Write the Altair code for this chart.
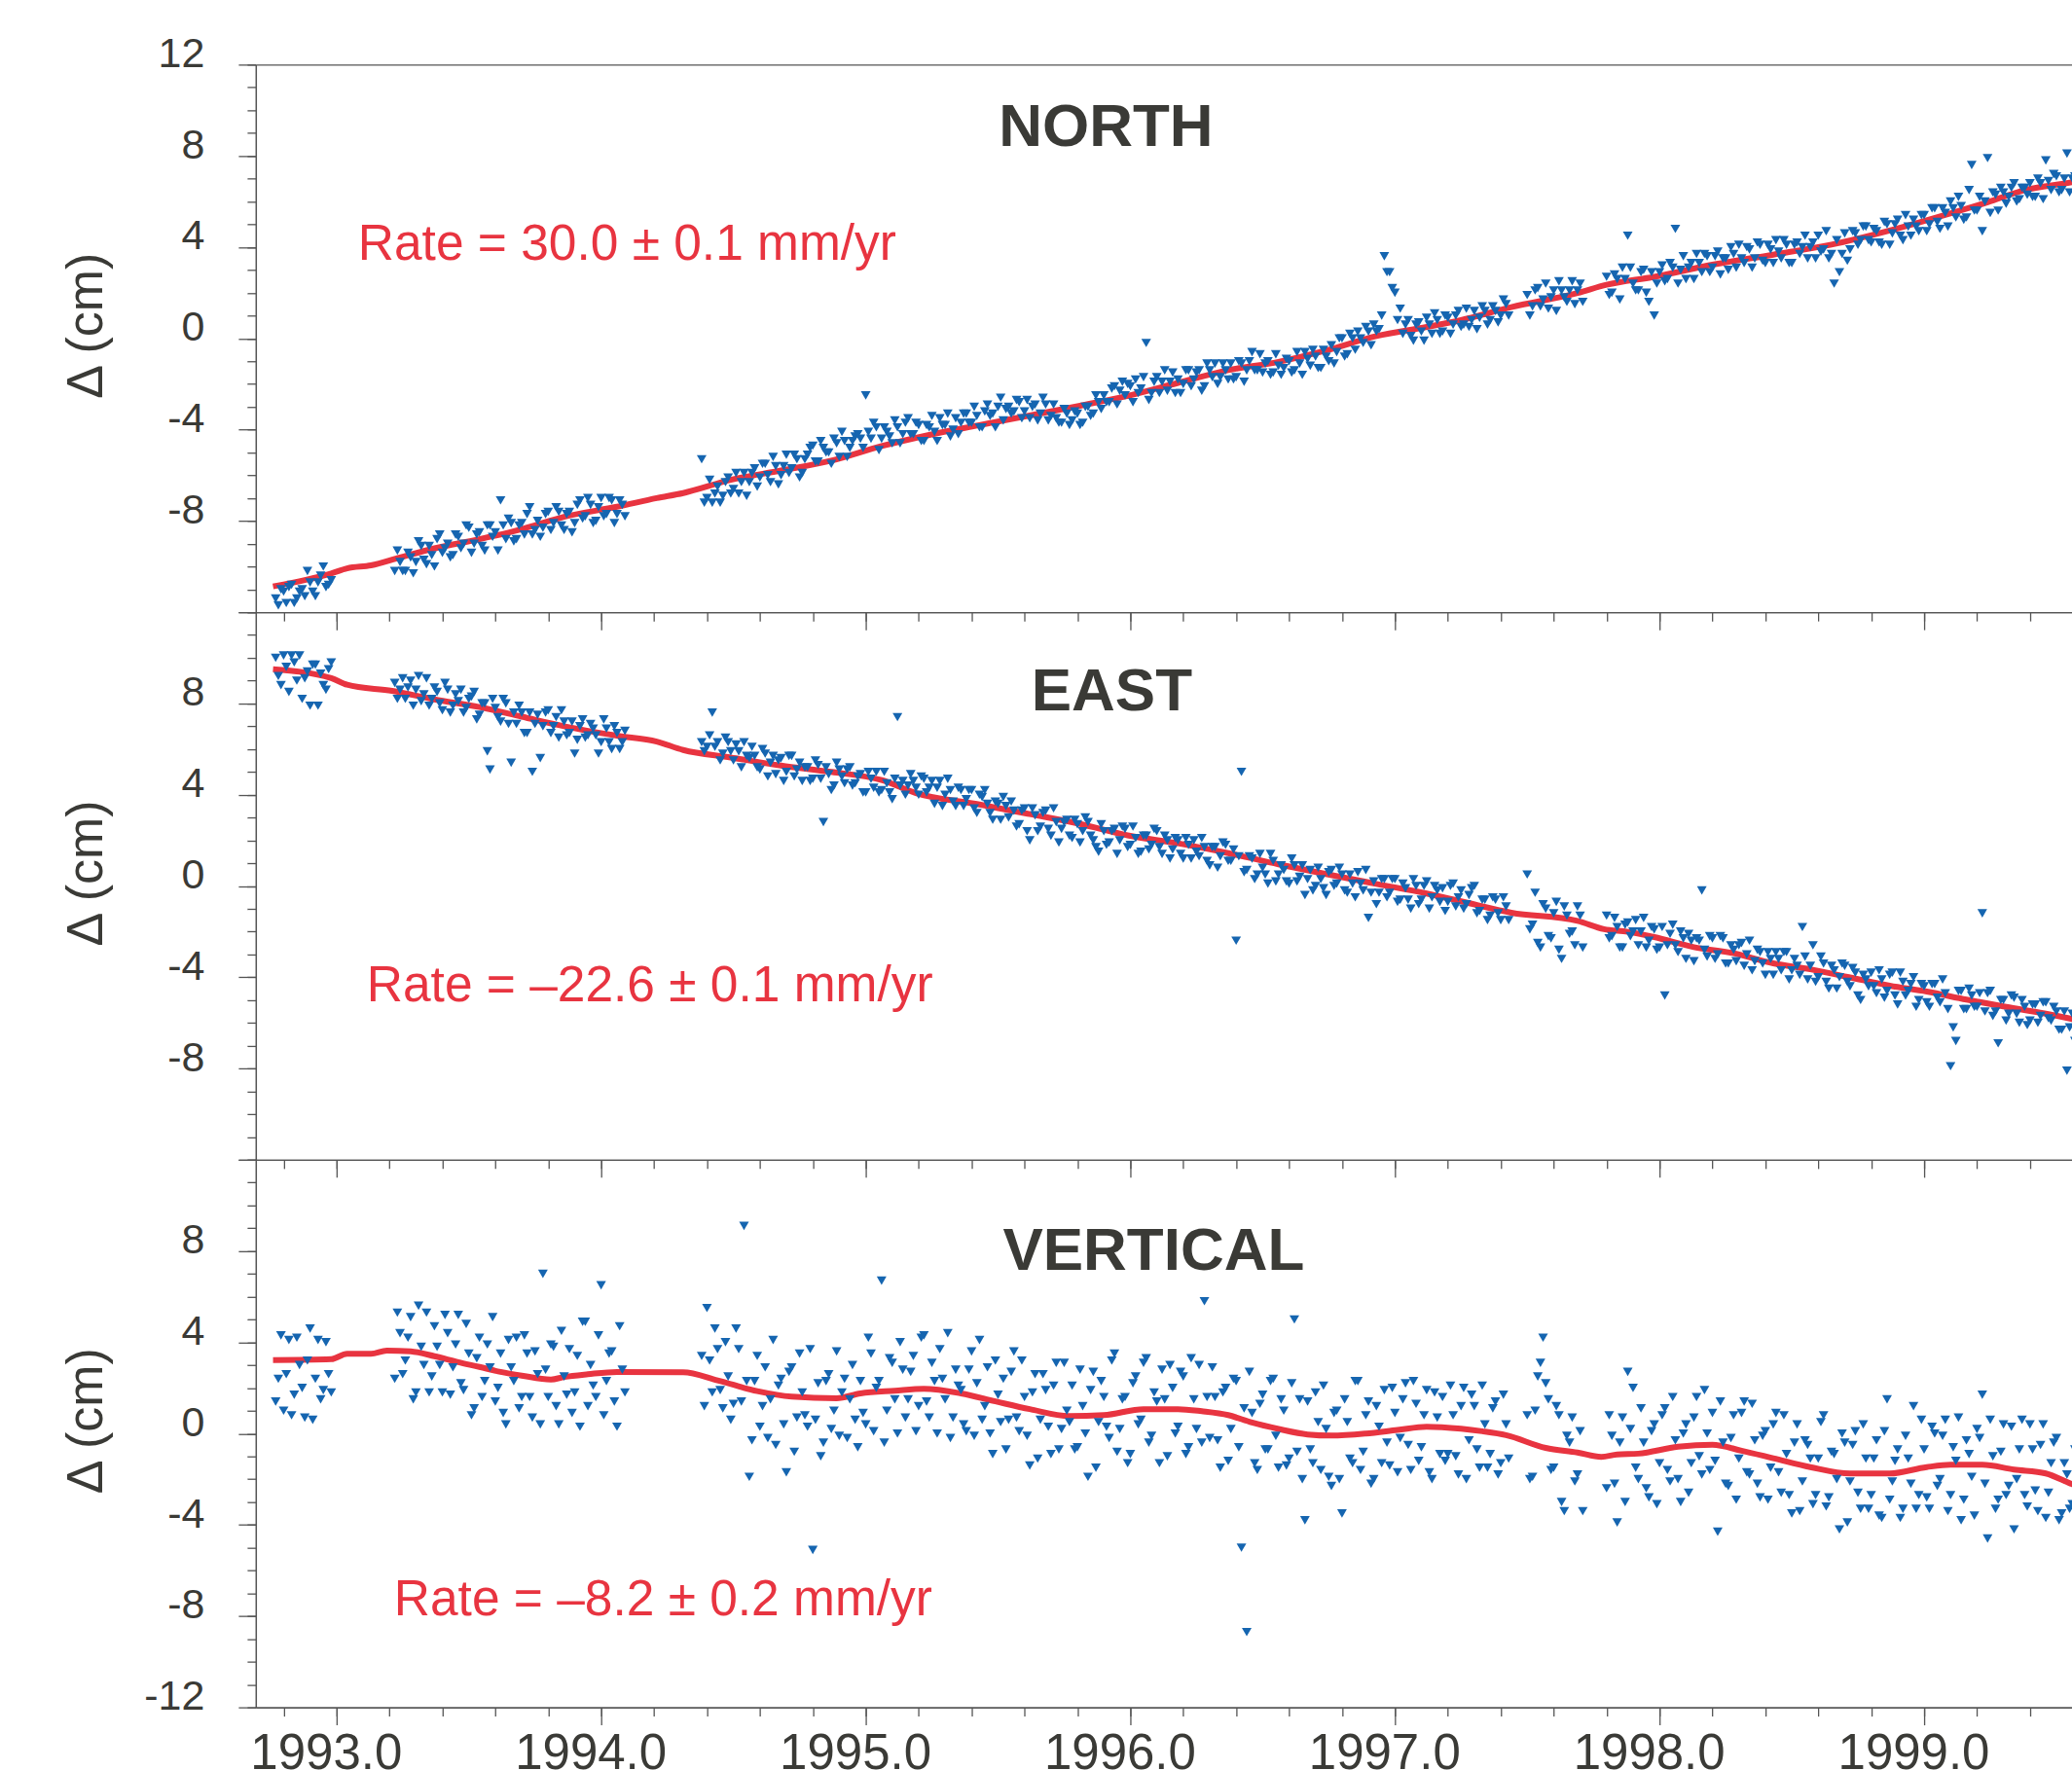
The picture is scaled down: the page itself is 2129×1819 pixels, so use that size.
import altair as alt
import pandas as pd

# ------------------------------------------------------------------ data
# observation epochs (decimal years): two interleaved daily solution sets, A and B
T_SEG1 = [1992.77, 1992.79, 1992.81, 1992.83, 1992.85, 1992.87, 1992.89, 1992.91, 1992.93, 1992.95, 1992.97]
T_SEG2 = [1993.22, 1993.24, 1993.26, 1993.28, 1993.30, 1993.32, 1993.34, 1993.36, 1993.38, 1993.40,
          1993.42, 1993.44, 1993.46, 1993.48, 1993.50, 1993.52, 1993.54, 1993.56, 1993.58, 1993.60,
          1993.62, 1993.64, 1993.66, 1993.68, 1993.70, 1993.72, 1993.74, 1993.76, 1993.78, 1993.80,
          1993.82, 1993.84, 1993.86, 1993.88, 1993.90, 1993.92, 1993.94, 1993.96, 1993.98, 1994.00,
          1994.02, 1994.04, 1994.06, 1994.08]
T_SEG3 = [1994.38, 1994.40, 1994.42, 1994.44, 1994.46, 1994.48, 1994.50, 1994.52, 1994.54, 1994.56,
          1994.58, 1994.60, 1994.62, 1994.64, 1994.66, 1994.68, 1994.70, 1994.72, 1994.74, 1994.76,
          1994.78, 1994.80, 1994.82, 1994.84, 1994.86, 1994.88, 1994.90, 1994.92, 1994.94, 1994.96,
          1994.98, 1995.00, 1995.02, 1995.04, 1995.06, 1995.08, 1995.10, 1995.12, 1995.14, 1995.16,
          1995.18, 1995.20, 1995.22, 1995.24, 1995.26, 1995.28, 1995.30, 1995.32, 1995.34, 1995.36,
          1995.38, 1995.40, 1995.42, 1995.44, 1995.46, 1995.48, 1995.50, 1995.52, 1995.54, 1995.56,
          1995.58, 1995.60, 1995.62, 1995.64, 1995.66, 1995.68, 1995.70, 1995.72, 1995.74, 1995.76,
          1995.78, 1995.80, 1995.82, 1995.84, 1995.86, 1995.88, 1995.90, 1995.92, 1995.94, 1995.96,
          1995.98, 1996.00, 1996.02, 1996.04, 1996.06, 1996.08, 1996.10, 1996.12, 1996.14, 1996.16,
          1996.18, 1996.20, 1996.22, 1996.24, 1996.26, 1996.28, 1996.30, 1996.32, 1996.34, 1996.36,
          1996.38, 1996.40, 1996.42, 1996.44, 1996.46, 1996.48, 1996.50, 1996.52, 1996.54, 1996.56,
          1996.58, 1996.60, 1996.62, 1996.64, 1996.66, 1996.68, 1996.70, 1996.72, 1996.74, 1996.76,
          1996.78, 1996.80, 1996.82, 1996.84, 1996.86, 1996.88, 1996.90, 1996.92, 1996.94, 1996.96,
          1996.98, 1997.00, 1997.02, 1997.04, 1997.06, 1997.08, 1997.10, 1997.12, 1997.14, 1997.16,
          1997.18, 1997.20, 1997.22, 1997.24, 1997.26, 1997.28, 1997.30, 1997.32, 1997.34, 1997.36,
          1997.38, 1997.40, 1997.42]
T_SEG4 = [1997.50, 1997.52, 1997.54, 1997.56, 1997.58, 1997.60, 1997.62, 1997.64, 1997.66, 1997.68, 1997.70]
T_SEG5 = [1997.80, 1997.82, 1997.84, 1997.86, 1997.88, 1997.90, 1997.92, 1997.94, 1997.96, 1997.98,
          1998.00, 1998.02, 1998.04, 1998.06, 1998.08, 1998.10, 1998.12, 1998.14, 1998.16, 1998.18,
          1998.20, 1998.22, 1998.24, 1998.26, 1998.28, 1998.30, 1998.32, 1998.34, 1998.36, 1998.38,
          1998.40, 1998.42, 1998.44, 1998.46, 1998.48, 1998.50, 1998.52, 1998.54, 1998.56, 1998.58,
          1998.60, 1998.62, 1998.64, 1998.66, 1998.68, 1998.70, 1998.72, 1998.74, 1998.76, 1998.78,
          1998.80, 1998.82, 1998.84, 1998.86, 1998.88, 1998.90, 1998.92, 1998.94, 1998.96, 1998.98,
          1999.00, 1999.02, 1999.04, 1999.06, 1999.08, 1999.10, 1999.12, 1999.14, 1999.16, 1999.18,
          1999.20, 1999.22, 1999.24, 1999.26, 1999.28, 1999.30, 1999.32, 1999.34, 1999.36, 1999.38,
          1999.40, 1999.42, 1999.44, 1999.46, 1999.48, 1999.50, 1999.52, 1999.54, 1999.56]

T_SEG1B = [1992.78, 1992.80, 1992.82, 1992.84, 1992.86, 1992.88, 1992.90, 1992.92, 1992.94, 1992.96, 1992.98]
T_SEG2B = [1993.23, 1993.25, 1993.27, 1993.29, 1993.31, 1993.33, 1993.35, 1993.37, 1993.39, 1993.41,
           1993.43, 1993.45, 1993.47, 1993.49, 1993.51, 1993.53, 1993.55, 1993.57, 1993.59, 1993.61,
           1993.63, 1993.65, 1993.67, 1993.69, 1993.71, 1993.73, 1993.75, 1993.77, 1993.79, 1993.81,
           1993.83, 1993.85, 1993.87, 1993.89, 1993.91, 1993.93, 1993.95, 1993.97, 1993.99, 1994.01,
           1994.03, 1994.05, 1994.07, 1994.09]
T_SEG3B = [1994.39, 1994.41, 1994.43, 1994.45, 1994.47, 1994.49, 1994.51, 1994.53, 1994.55, 1994.57,
           1994.59, 1994.61, 1994.63, 1994.65, 1994.67, 1994.69, 1994.71, 1994.73, 1994.75, 1994.77,
           1994.79, 1994.81, 1994.83, 1994.85, 1994.87, 1994.89, 1994.91, 1994.93, 1994.95, 1994.97,
           1994.99, 1995.01, 1995.03, 1995.05, 1995.07, 1995.09, 1995.11, 1995.13, 1995.15, 1995.17,
           1995.19, 1995.21, 1995.23, 1995.25, 1995.27, 1995.29, 1995.31, 1995.33, 1995.35, 1995.37,
           1995.39, 1995.41, 1995.43, 1995.45, 1995.47, 1995.49, 1995.51, 1995.53, 1995.55, 1995.57,
           1995.59, 1995.61, 1995.63, 1995.65, 1995.67, 1995.69, 1995.71, 1995.73, 1995.75, 1995.77,
           1995.79, 1995.81, 1995.83, 1995.85, 1995.87, 1995.89, 1995.91, 1995.93, 1995.95, 1995.97,
           1995.99, 1996.01, 1996.03, 1996.05, 1996.07, 1996.09, 1996.11, 1996.13, 1996.15, 1996.17,
           1996.19, 1996.21, 1996.23, 1996.25, 1996.27, 1996.29, 1996.31, 1996.33, 1996.35, 1996.37,
           1996.39, 1996.41, 1996.43, 1996.45, 1996.47, 1996.49, 1996.51, 1996.53, 1996.55, 1996.57,
           1996.59, 1996.61, 1996.63, 1996.65, 1996.67, 1996.69, 1996.71, 1996.73, 1996.75, 1996.77,
           1996.79, 1996.81, 1996.83, 1996.85, 1996.87, 1996.89, 1996.91, 1996.93, 1996.95, 1996.97,
           1996.99, 1997.01, 1997.03, 1997.05, 1997.07, 1997.09, 1997.11, 1997.13, 1997.15, 1997.17,
           1997.19, 1997.21, 1997.23, 1997.25, 1997.27, 1997.29, 1997.31, 1997.33, 1997.35, 1997.37,
           1997.39, 1997.41, 1997.43]
T_SEG4B = [1997.51, 1997.53, 1997.55, 1997.57, 1997.59, 1997.61, 1997.63, 1997.65, 1997.67, 1997.69, 1997.71]
T_SEG5B = [1997.81, 1997.83, 1997.85, 1997.87, 1997.89, 1997.91, 1997.93, 1997.95, 1997.97, 1997.99,
           1998.01, 1998.03, 1998.05, 1998.07, 1998.09, 1998.11, 1998.13, 1998.15, 1998.17, 1998.19,
           1998.21, 1998.23, 1998.25, 1998.27, 1998.29, 1998.31, 1998.33, 1998.35, 1998.37, 1998.39,
           1998.41, 1998.43, 1998.45, 1998.47, 1998.49, 1998.51, 1998.53, 1998.55, 1998.57, 1998.59,
           1998.61, 1998.63, 1998.65, 1998.67, 1998.69, 1998.71, 1998.73, 1998.75, 1998.77, 1998.79,
           1998.81, 1998.83, 1998.85, 1998.87, 1998.89, 1998.91, 1998.93, 1998.95, 1998.97, 1998.99,
           1999.01, 1999.03, 1999.05, 1999.07, 1999.09, 1999.11, 1999.13, 1999.15, 1999.17, 1999.19,
           1999.21, 1999.23, 1999.25, 1999.27, 1999.29, 1999.31, 1999.33, 1999.35, 1999.37, 1999.39,
           1999.41, 1999.43, 1999.45, 1999.47, 1999.49, 1999.51, 1999.53, 1999.55, 1999.57]

# NORTH displacement (cm)
N_SEG1 = [-11.4, -11.0, -11.6, -10.8, -11.4, -11.0, -10.2, -11.1, -10.7, -10.0, -10.8]
N_SEG2 = [-10.2, -9.8, -10.2, -9.6, -9.8, -9.1, -9.9, -9.5, -8.8, -9.4,
          -9.0, -9.5, -8.7, -9.0, -8.3, -9.0, -8.5, -9.3, -8.2, -8.5,
          -7.1, -8.8, -8.1, -8.8, -8.1, -7.7, -8.6, -8.0, -8.3, -7.6,
          -8.1, -7.6, -8.4, -7.6, -8.1, -7.1, -7.8, -7.3, -8.0, -7.0,
          -7.7, -7.1, -7.7, -7.3]
N_SEG3 = [-5.3, -7.0, -7.2, -6.5, -6.9, -6.1, -6.6, -6.8, -5.9, -6.3,
          -5.7, -6.1, -5.5, -6.3, -5.6, -6.0, -5.1, -5.7, -5.3, -5.9,
          -5.1, -4.7, -5.4, -4.8, -5.0, -4.4, -5.2, -4.5, -4.8, -4.3,
          -4.4, -2.5, -4.4, -3.9, -4.4, -4.1, -4.6, -3.9, -4.2, -3.5,
          -4.2, -3.8, -4.5, -3.9, -4.1, -3.5, -3.8, -4.3, -3.5, -3.7,
          -3.3, -3.7, -3.4, -3.9, -2.9, -3.3, -3.0, -3.6, -3.0, -3.2,
          -2.8, -3.2, -3.5, -2.9, -3.3, -2.9, -3.4, -3.5, -3.7, -3.3,
          -3.6, -3.3, -3.7, -3.0, -3.3, -2.8, -2.5, -2.8, -2.1, -2.3,
          -2.5, -2.1, -1.8, -2.2, -0.2, -2.4, -1.7, -1.9, -2.3, -1.5,
          -1.8, -2.0, -1.4, -1.8, -1.4, -2.1, -1.4, -1.1, -1.7, -1.4,
          -1.1, -1.7, -1.1, -1.4, -0.6, -1.4, -1.5, -1.0, -1.5, -1.2,
          -1.3, -1.0, -1.4, -1.1, -0.6, -1.2, -0.8, -1.3, -0.8, -0.3,
          -0.6, 0.0, -0.7, 0.0, 0.3, -0.2, 0.3, 0.6, 0.4, 3.6,
          2.9, 2.0, 1.3, 0.6, 0.1, 0.6, 0.3, 0.9, 0.2, 0.8,
          0.3, 0.9, 0.6, 1.2, 0.6, 0.5, 1.2, 0.9, 1.2, 0.8,
          1.2, 1.0, 1.5]
N_SEG4 = [1.9, 1.4, 2.2, 1.7, 1.3, 2.1, 2.5, 1.8, 2.1, 1.5, 2.4]
N_SEG5 = [2.7, 2.0, 2.6, 3.1, 4.5, 2.4, 2.1, 3.0, 1.6, 1.0,
          2.9, 2.5, 3.3, 4.8, 3.0, 2.6, 3.3, 3.7, 2.9, 3.6,
          3.1, 3.8, 3.5, 3.0, 3.7, 4.1, 3.3, 3.9, 3.5, 4.1,
          3.3, 3.9, 4.3, 3.5, 4.1, 3.3, 4.2, 4.0, 3.5, 4.2,
          4.5, 3.9, 3.5, 2.4, 2.9, 4.6, 3.9, 4.6, 4.3, 4.9,
          4.2, 4.7, 4.1, 5.0, 4.6, 5.2, 4.3, 4.9, 5.2, 4.7,
          5.4, 5.0, 5.7, 4.8, 5.5, 6.0, 5.3, 5.8, 5.3, 7.6,
          5.6, 4.7, 7.9, 6.4, 5.6, 6.4, 6.2, 6.8, 6.1, 6.6,
          6.8, 6.2, 6.8, 7.8, 6.5, 7.1, 6.5, 8.1, 7.0]
N_SEG1B = [-11.7, -11.1, -10.9, -11.6, -11.1, -11.3, -10.7, -11.3, -10.4, -10.9, -10.6]
N_SEG2B = [-9.3, -10.2, -9.4, -10.3, -8.9, -9.7, -9.1, -10.0, -8.6, -9.2,
           -9.6, -8.6, -9.2, -8.2, -9.4, -8.6, -9.1, -8.2, -8.7, -9.3,
           -8.2, -7.9, -8.9, -8.2, -8.6, -7.4, -8.4, -8.7, -7.7, -8.4,
           -7.4, -8.2, -7.7, -8.5, -7.3, -7.9, -7.0, -8.1, -7.4, -7.8,
           -7.0, -8.1, -7.1, -7.8]
N_SEG3B = [-7.2, -6.2, -6.8, -7.2, -6.3, -6.8, -5.9, -6.3, -6.9, -5.9,
           -6.5, -5.5, -6.0, -5.2, -6.4, -5.6, -5.9, -5.1, -6.1, -5.3,
           -4.8, -5.4, -4.5, -5.0, -5.5, -4.6, -4.1, -5.2, -4.5, -4.2,
           -4.8, -4.1, -3.7, -4.9, -3.9, -4.3, -3.6, -4.6, -3.7, -4.2,
           -3.7, -4.5, -3.8, -3.4, -4.5, -3.8, -3.3, -4.0, -4.2, -3.3,
           -3.7, -3.0, -3.9, -3.2, -3.4, -3.9, -2.6, -3.1, -3.3, -2.7,
           -3.5, -2.7, -3.0, -3.6, -2.6, -3.6, -2.9, -3.7, -3.1, -3.8,
           -3.2, -3.8, -3.0, -3.4, -2.5, -3.1, -2.8, -2.2, -2.9, -1.9,
           -2.0, -2.8, -2.4, -1.7, -2.7, -1.9, -2.4, -1.4, -1.9, -2.4,
           -2.4, -1.4, -2.1, -1.5, -2.3, -1.1, -1.7, -2.0, -1.1, -1.8,
           -1.8, -1.0, -1.9, -1.0, -1.4, -0.7, -1.1, -1.6, -0.7, -1.6,
           -0.9, -1.5, -0.6, -1.6, -0.9, -0.5, -1.3, -0.5, -1.0, -1.1,
           0.0, -0.8, 0.2, -0.5, 0.0, 0.5, -0.3, 0.3, 1.0, 2.9,
           2.2, 0.8, 0.2, 0.8, -0.1, 0.7, -0.1, 0.6, 1.1, 0.2,
           1.0, 0.2, 1.0, 0.5, 1.3, 0.8, 0.4, 1.4, 0.6, 1.4,
           0.7, 1.7, 1.0]
N_SEG4B = [1.0, 2.1, 1.4, 2.4, 1.8, 1.2, 2.1, 1.6, 2.5, 2.1, 1.6]
N_SEG5B = [1.9, 2.8, 1.7, 2.6, 3.1, 2.1, 2.9, 2.0, 2.9, 2.4,
           3.2, 2.6, 3.1, 2.4, 3.6, 3.1, 2.6, 3.3, 3.7, 2.9,
           3.6, 2.8, 3.5, 4.0, 3.1, 3.5, 4.0, 3.1, 4.2, 3.4,
           4.1, 3.3, 3.8, 4.3, 3.3, 4.1, 3.7, 4.5, 4.0, 3.5,
           3.8, 4.7, 3.7, 4.3, 3.7, 3.4, 4.7, 4.1, 4.9, 4.3,
           4.8, 4.2, 5.1, 4.1, 5.0, 4.5, 5.4, 4.5, 4.9, 5.4,
           4.7, 5.7, 5.1, 5.7, 4.9, 5.7, 6.2, 5.2, 6.5, 5.6,
           6.2, 6.0, 5.5, 6.3, 6.6, 5.9, 6.6, 6.0, 6.6, 6.3,
           6.2, 7.0, 6.1, 6.9, 7.2, 6.4, 7.0, 6.4, 7.1]

# EAST displacement (cm)
E_SEG1 = [10.0, 8.8, 9.6, 10.1, 9.0, 8.2, 9.4, 9.7, 7.9, 8.8, 9.5]
E_SEG2 = [8.9, 8.6, 8.2, 9.0, 8.6, 8.1, 9.1, 8.2, 8.5, 7.7,
          8.6, 7.9, 8.1, 7.6, 8.2, 8.5, 7.5, 8.0, 5.1, 7.8,
          7.2, 8.0, 5.4, 7.1, 7.6, 6.7, 5.0, 7.5, 7.0, 7.7,
          7.0, 6.5, 7.2, 6.7, 5.8, 7.0, 6.5, 7.1, 6.6, 6.3,
          6.9, 6.0, 6.7, 6.3]
E_SEG3 = [6.3, 6.1, 7.6, 6.3, 5.8, 6.3, 5.5, 5.9, 6.3, 5.6,
          5.7, 5.1, 5.8, 5.4, 4.9, 5.6, 5.0, 5.7, 5.1, 4.6,
          5.2, 4.7, 5.3, 2.8, 4.9, 4.4, 5.1, 4.5, 5.2, 4.5,
          4.9, 4.1, 4.7, 5.0, 4.2, 4.5, 3.8, 7.4, 4.6, 4.4,
          4.6, 4.0, 4.7, 4.3, 3.6, 4.6, 4.0, 4.2, 3.5, 4.2,
          3.8, 4.2, 3.2, 3.9, 3.6, 2.9, 3.6, 3.9, 3.0, 3.3,
          2.7, 3.4, 2.0, 3.1, 2.6, 3.3, 2.2, 2.8, 2.5, 2.9,
          2.1, 2.7, 2.4, 2.8, 2.0, 1.5, 2.4, 1.9, 2.5, 2.0,
          2.5, 1.8, 2.1, 1.5, 2.2, 1.8, 2.4, 1.4, 2.0, 1.6,
          2.0, 1.2, 1.8, 2.0, 1.3, 1.7, 0.9, 1.7, 1.3, 1.8,
          1.1, -2.4, 5.0, 0.7, 1.2, 0.5, 0.8, 0.1, 1.1, 0.5,
          0.7, 0.1, 0.9, 0.4, -0.4, 0.7, 0.0, 0.3, -0.4, 0.7,
          0.1, 0.5, -0.3, 0.1, 0.6, -0.2, -1.4, 0.2, -0.3, 0.3,
          -0.3, 0.3, -0.6, -0.1, -1.0, 0.0, -0.6, 0.2, -0.5, -0.2,
          -0.1, -0.7, 0.1, -0.5, -1.0, -0.4, 0.0, -1.1, -0.6, -1.3,
          -0.6, -1.5, -0.9]
E_SEG4 = [0.5, -1.7, -2.5, -0.8, -2.2, -1.2, -2.8, -0.9, -2.1, -2.6, -1.3]
E_SEG5 = [-1.3, -2.2, -1.8, -2.7, -1.6, -2.0, -2.6, -1.4, -2.4, -1.9,
          -2.7, -4.8, -2.1, -2.6, -2.0, -3.2, -2.4, -2.3, -0.2, -3.1,
          -2.3, -3.0, -2.3, -3.4, -2.8, -2.6, -3.5, -2.4, -3.3, -2.9,
          -3.9, -3.2, -2.9, -3.7, -2.9, -3.7, -3.5, -1.8, -4.1, -2.6,
          -4.0, -3.4, -4.5, -3.7, -4.0, -3.5, -4.4, -3.8, -5.0, -4.1,
          -3.8, -4.7, -4.1, -4.6, -3.8, -5.2, -4.2, -4.6, -4.0, -5.0,
          -4.4, -5.3, -4.3, -5.1, -4.7, -7.9, -6.8, -4.6, -5.4, -4.8,
          -5.3, -1.2, -4.7, -5.7, -6.9, -5.0, -5.6, -4.9, -6.0, -5.3,
          -5.9, -5.2, -5.7, -5.1, -5.9, -5.5, -6.3, -8.1, -5.6]
E_SEG1B = [9.2, 10.1, 8.5, 9.8, 10.1, 9.1, 7.9, 9.7, 9.3, 8.6, 9.8]
E_SEG2B = [8.2, 9.1, 8.7, 7.9, 9.2, 8.4, 7.9, 8.7, 8.0, 8.9,
           7.6, 8.4, 8.6, 7.8, 8.3, 7.3, 8.0, 5.9, 8.2, 7.4,
           8.2, 7.1, 7.6, 7.9, 6.7, 7.6, 7.1, 5.6, 7.6, 6.7,
           7.4, 7.7, 6.6, 7.2, 6.4, 7.3, 6.6, 6.9, 5.8, 7.3,
           6.3, 7.0, 6.0, 6.8]
E_SEG3B = [5.9, 6.6, 6.1, 5.5, 6.5, 5.9, 6.2, 5.2, 5.7, 6.1,
           5.2, 6.0, 4.8, 5.7, 5.5, 4.6, 5.7, 4.8, 5.4, 5.2,
           4.6, 5.5, 4.7, 5.2, 4.2, 5.4, 4.8, 5.1, 4.4, 4.8,
           4.1, 5.0, 4.3, 4.1, 5.0, 4.1, 4.7, 4.4, 4.0, 4.9,
           4.3, 4.8, 4.1, 4.6, 4.3, 3.5, 4.7, 3.7, 4.3, 3.5,
           4.2, 3.4, 4.0, 4.2, 3.2, 3.7, 2.9, 3.5, 3.7, 2.6,
           3.3, 2.4, 3.4, 2.4, 3.2, 2.5, 3.4, 1.9, 2.8, 2.2,
           2.9, 1.9, 3.0, 2.2, 1.7, 2.7, 1.8, 2.4, 1.4, 2.6,
           1.7, 2.6, 1.4, 2.2, 1.6, 2.5, 1.7, 2.2, 1.2, 2.1,
           1.4, 2.1, 1.2, 1.5, 2.1, 1.1, 1.7, 0.8, 1.9, 1.1,
           1.6, 1.3, 0.6, 1.3, 0.3, 1.4, 0.5, 1.4, 0.2, 0.9,
           0.2, 1.2, 0.2, 0.9, 0.3, -0.2, 0.8, -0.1, 0.6, 0.0,
           0.8, -0.2, 0.5, -0.5, 0.1, 0.7, -0.3, -0.8, 0.3, -0.5,
           0.3, -0.7, 0.1, -0.6, 0.3, -0.8, 0.0, -1.0, 0.0, -0.7,
           -1.1, 0.0, -0.9, -0.2, -0.8, -0.1, -1.2, -0.6, -1.5, -0.5,
           -1.2, -0.5, -1.5]
E_SEG4B = [-1.9, -0.3, -2.7, -1.0, -2.3, -0.7, -3.2, -1.3, -2.0, -0.9, -2.7]
E_SEG5B = [-2.3, -1.4, -2.7, -1.7, -2.2, -1.5, -2.0, -2.7, -1.8, -2.8,
           -1.8, -2.6, -1.7, -2.9, -2.3, -2.1, -3.3, -2.4, -2.8, -2.2,
           -3.2, -2.2, -3.4, -2.6, -3.3, -2.5, -3.0, -3.7, -2.8, -3.4,
           -2.9, -3.9, -3.2, -2.9, -4.1, -3.2, -3.9, -3.1, -3.5, -4.2,
           -3.1, -4.2, -3.5, -4.5, -3.4, -4.2, -3.6, -4.8, -3.9, -4.4,
           -4.4, -3.7, -4.9, -3.9, -4.8, -3.8, -4.8, -4.3, -5.3, -4.3,
           -5.1, -4.3, -4.9, -4.1, -5.4, -6.2, -4.6, -5.4, -4.5, -5.3,
           -4.7, -5.5, -4.6, -5.5, -5.0, -5.9, -4.8, -5.6, -5.0, -6.1,
           -5.2, -6.0, -5.1, -5.8, -5.3, -6.3, -5.5, -6.2, -6.8]

# VERTICAL displacement (cm)
U_SEG1 = [1.4, 4.3, 2.6, 0.8, 4.2, 2.0, 3.2, 0.6, 4.1, 1.9, 2.6]
U_SEG2 = [2.4, 4.4, 3.2, 5.1, 1.8, 3.8, 5.3, 2.5, 3.8, 1.8,
          4.4, 2.9, 5.2, 1.9, 3.5, 1.1, 4.2, 2.3, 2.9, 1.4,
          3.5, 0.4, 2.9, 4.2, 1.6, 3.5, 0.7, 2.6, 7.0, 1.6,
          3.8, 0.4, 2.5, 3.7, 1.8, 0.3, 4.9, 3.0, 1.6, 6.5,
          2.3, 3.6, 0.3, 2.8]
U_SEG3 = [3.4, 5.5, 1.8, 3.7, 1.1, 2.5, 1.3, 3.7, 9.1, -1.9,
          2.3, 0.3, 2.9, 1.5, -0.5, 2.4, -1.7, 2.9, 0.7, 1.8,
          0.3, -5.1, 2.2, -0.4, 2.6, 1.0, -0.1, 2.4, 1.5, 0.6,
          2.3, 0.4, 3.5, 2.0, 6.7, 1.0, 3.1, 0.0, 2.8, 1.5,
          3.4, 1.2, 4.3, 0.7, 2.3, 3.7, 1.5, -0.2, 2.8, 1.9,
          0.1, 3.6, 2.2, 0.6, 2.9, -0.9, 1.7, 2.4, 0.6, 3.6,
          0.1, 1.6, -1.4, 2.6, 0.6, 1.9, -0.9, 3.1, 0.2, 1.0,
          2.1, -0.6, 1.2, -1.9, 2.7, 0.5, 1.6, -0.2, 3.5, 0.2,
          1.6, -0.9, 2.5, 0.6, 3.3, -0.1, 1.4, 2.8, -1.0, 2.0,
          0.3, 2.5, -0.6, 1.5, 3.0, 5.8, -0.2, 1.6, -1.5, 2.0,
          0.2, 2.3, -5.0, -8.7, 0.9, -1.6, 1.7, -0.7, 2.4, -1.5,
          1.0, -1.1, 5.0, 1.5, -3.8, -0.7, 1.8, -1.6, 0.2, -2.3,
          1.0, -3.5, 0.5, -1.3, 2.3, -0.8, 1.4, -2.0, 0.3, 1.9,
          -1.4, 0.9, -0.2, 2.2, -1.6, 1.3, -0.6, 1.9, -2.0, 0.7,
          1.6, -0.9, 0.8, -1.8, 2.0, -0.3, 1.2, -1.5, 0.4, -0.9,
          1.4, -1.3, 0.4]
U_SEG4 = [0.8, -1.9, 2.5, 4.2, 1.5, -1.5, 0.8, -3.4, -0.4, -2.1, 0.1]
U_SEG5 = [-2.4, -0.1, -3.9, 0.7, 2.7, 2.0, -2.0, -0.4, -2.8, 0.4,
          -1.3, 1.1, -2.1, -0.3, -3.0, 0.4, -1.3, 1.6, -1.8, 0.0,
          0.9, -4.3, -0.4, -2.3, 0.8, -1.1, 1.4, -1.8, -0.3, -2.8,
          0.1, -1.5, 0.9, -2.6, -0.9, -3.5, 0.4, -2.1, -0.5, -3.1,
          -1.1, 0.8, -2.8, -0.9, -4.2, -0.4, -2.1, 0.1, -3.3, -1.1,
          -2.7, -0.3, -3.7, 1.5, -2.1, -0.7, -3.3, -1.1, 1.2, -2.7,
          -0.7, -3.3, 0.0, -2.0, 0.6, -2.7, -1.2, -3.8, -0.3, -1.9,
          0.2, 1.7, -4.6, -1.0, -2.9, 0.4, -2.3, -4.2, -0.7, -2.7,
          0.4, -2.5, -0.5, -3.7, -1.3, -0.2, -3.5, -1.8, -3.1]
U_SEG1B = [2.4, 1.0, 4.1, 1.7, 3.0, 0.7, 4.6, 2.4, 1.5, 4.0, 1.8]
U_SEG2B = [5.3, 2.6, 4.2, 1.5, 5.6, 3.0, 1.8, 4.7, 3.0, 5.2,
           1.7, 3.9, 2.2, 4.8, 0.8, 3.3, 1.6, 3.9, 5.1, 2.0,
           0.9, 4.1, 2.3, 1.1, 4.3, 1.6, 3.6, 0.4, 2.8, 3.9,
           1.2, 4.5, 1.7, 0.9, 3.4, 4.9, 1.2, 2.1, 4.3, 0.8,
           3.5, 1.4, 4.7, 1.8]
U_SEG3B = [1.2, 3.2, 4.6, 1.9, 4.0, 0.6, 4.6, 1.4, 2.3, -0.3,
           3.4, 1.2, -0.2, 4.1, 2.1, 0.4, 2.7, -0.8, 3.5, 0.8,
           3.7, 0.6, -1.0, 2.3, 0.2, 3.6, 1.8, -0.2, 3.0, -0.6,
           0.9, 4.2, 0.1, 2.3, -0.4, 3.3, 1.5, 4.0, 0.7, 2.7,
           0.1, 4.2, 1.4, 3.1, 0.0, 2.4, 4.4, 0.7, 2.1, 0.4,
           2.8, -0.1, 4.1, 1.2, 0.0, 3.2, 0.5, -0.7, 2.7, 0.7,
           3.2, -0.1, 1.8, -1.1, 2.6, 0.3, 2.1, -0.7, 3.1, 0.5,
           -0.7, 2.8, 0.0, 1.9, -1.5, 2.3, 0.3, 3.2, -0.8, 1.5,
           -1.3, 2.2, 0.4, 3.1, -0.4, 1.8, -1.3, 1.5, 3.0, 0.0,
           2.7, -0.9, 3.3, 0.2, -0.4, 1.6, 2.9, -0.3, 1.8, -1.2,
           2.4, -0.6, 1.1, 2.7, -1.3, 1.3, -0.7, 2.3, -0.1, 1.5,
           -1.4, 2.2, -0.8, -2.0, 1.4, -1.3, 0.5, 2.1, -1.9, 0.9,
           -2.0, 1.5, -1.1, 2.3, -1.6, 0.8, -2.2, 1.2, -1.3, -0.4,
           2.0, -1.7, 1.5, -0.5, 2.3, -1.2, 0.8, -1.7, 1.8, -0.9,
           -1.2, 2.1, -1.0, 1.2, -2.0, 1.7, -0.7, 2.1, -1.5, 1.1,
           -1.8, 1.7, -1.1]
U_SEG4B = [-2.0, 1.0, 3.1, 2.2, -1.6, 1.2, -3.0, -0.1, 0.7, -1.8, -3.4]
U_SEG5B = [0.8, -2.2, -0.4, -3.0, 0.2, -1.5, 1.1, -2.4, 0.1, -3.1,
           0.8, -1.6, 1.6, -2.0, 0.0, -2.6, 0.7, -1.0, 1.9, -1.6,
           -1.2, 1.4, -2.2, -0.2, -2.9, 0.9, -1.7, 1.3, -2.2, -0.1,
           -2.9, 0.4, -1.7, 0.8, -2.7, -0.4, -3.4, -0.3, -1.1, -2.7,
           0.5, -3.2, -0.8, -2.0, 0.0, -3.9, -0.5, -2.6, 0.4, -3.3,
           -1.1, -3.6, 0.1, -2.9, -1.2, -3.7, -0.1, -2.2, -3.3, 0.6,
           -2.8, 0.3, -2.3, -0.1, -3.4, -0.6, 0.7, -2.9, -0.9, -3.6,
           -0.2, -2.2, 0.6, -3.3, -0.8, -2.7, 0.3, -2.0, 0.6, -3.2,
           -0.7, -3.4, 0.4, -2.6, -0.4, -3.8, -1.3, -3.3, -0.7]

# fitted model curves (red)
FIT_N_T = [1992.76, 1992.98, 1993.04, 1993.13, 1993.24, 1993.37, 1993.54, 1993.70, 1993.86, 1994.06,
           1994.21, 1994.31, 1994.49, 1994.68, 1994.87, 1995.06, 1995.24, 1995.43, 1995.62, 1995.81,
           1995.99, 1996.18, 1996.37, 1996.56, 1996.74, 1996.93, 1997.12, 1997.25, 1997.44, 1997.69,
           1997.80, 1997.98, 1998.20, 1998.43, 1998.65, 1998.87, 1999.01, 1999.24, 1999.38, 1999.56, 1999.62]
FIT_N = [-10.87, -10.30, -10.08, -9.95, -9.60, -9.20, -8.80, -8.36, -7.82, -7.38,
         -7.00, -6.78, -6.20, -5.79, -5.36, -4.72, -4.23, -3.80, -3.38, -2.95,
         -2.52, -1.95, -1.39, -1.03, -0.53, 0.10, 0.50, 0.80, 1.37, 1.99,
         2.35, 2.70, 3.23, 3.67, 4.11, 4.73, 5.18, 5.97, 6.50, 6.85, 7.00]
FIT_E_T = [1992.76, 1992.98, 1993.04, 1993.21, 1993.37, 1993.54, 1993.70, 1993.86, 1994.06, 1994.21,
           1994.31, 1994.49, 1994.68, 1994.87, 1995.06, 1995.19, 1995.43, 1995.62, 1995.81, 1995.99,
           1996.18, 1996.37, 1996.56, 1996.74, 1996.93, 1997.12, 1997.25, 1997.44, 1997.69, 1997.79,
           1997.88, 1997.98, 1998.13, 1998.28, 1998.43, 1998.57, 1998.72, 1998.87, 1999.01, 1999.16,
           1999.31, 1999.46, 1999.56, 1999.62]
FIT_E = [9.50, 9.11, 8.82, 8.55, 8.18, 7.84, 7.42, 7.00, 6.59, 6.33,
         5.96, 5.63, 5.28, 5.00, 4.64, 4.07, 3.57, 3.15, 2.72, 2.22,
         1.87, 1.44, 0.95, 0.52, 0.09, -0.33, -0.67, -1.17, -1.53, -1.89,
         -2.01, -2.24, -2.68, -2.95, -3.39, -3.65, -4.01, -4.37, -4.63, -4.98,
         -5.30, -5.60, -5.83, -5.98]
FIT_U_T = [1992.76, 1992.98, 1993.04, 1993.13, 1993.19, 1993.28, 1993.37, 1993.46, 1993.54, 1993.62,
           1993.70, 1993.81, 1993.86, 1993.95, 1994.06, 1994.31, 1994.44, 1994.59, 1994.72, 1994.89,
           1994.98, 1995.11, 1995.22, 1995.36, 1995.49, 1995.62, 1995.77, 1995.90, 1996.05, 1996.18,
           1996.27, 1996.37, 1996.46, 1996.56, 1996.67, 1996.76, 1996.89, 1997.01, 1997.12, 1997.25,
           1997.33, 1997.42, 1997.57, 1997.69, 1997.78, 1997.84, 1997.92, 1998.07, 1998.20, 1998.31,
           1998.43, 1998.57, 1998.72, 1998.87, 1999.01, 1999.10, 1999.22, 1999.34, 1999.46, 1999.56, 1999.62]
FIT_U = [3.22, 3.26, 3.50, 3.50, 3.64, 3.60, 3.39, 3.13, 2.92, 2.70,
         2.54, 2.37, 2.48, 2.60, 2.70, 2.69, 2.33, 1.86, 1.62, 1.55,
         1.76, 1.88, 1.96, 1.76, 1.41, 1.07, 0.77, 0.81, 1.07, 1.07,
         0.98, 0.81, 0.48, 0.20, -0.04, -0.09, 0.00, 0.16, 0.30, 0.21,
         0.10, -0.07, -0.63, -0.83, -1.02, -0.92, -0.88, -0.58, -0.49, -0.75,
         -1.08, -1.47, -1.75, -1.75, -1.47, -1.37, -1.37, -1.58, -1.75, -2.22, -2.45]

PANEL_NAMES = ["NORTH", "EAST", "VERTICAL"]
RATE_TEXTS = ["Rate = 30.0 \u00b1 0.1 mm/yr",
              "Rate = \u201322.6 \u00b1 0.1 mm/yr",
              "Rate = \u20138.2 \u00b1 0.2 mm/yr"]
Y_TITLE = "\u0394 (cm)"
X_MAJOR_TICKS = [1993.0, 1994.0, 1995.0, 1996.0, 1997.0, 1998.0, 1999.0]
X_MINOR_TICKS = [1992.8, 1993.0, 1993.2, 1993.4, 1993.6, 1993.8, 1994.0, 1994.2, 1994.4, 1994.6,
                 1994.8, 1995.0, 1995.2, 1995.4, 1995.6, 1995.8, 1996.0, 1996.2, 1996.4, 1996.6,
                 1996.8, 1997.0, 1997.2, 1997.4, 1997.6, 1997.8, 1998.0, 1998.2, 1998.4, 1998.6,
                 1998.8, 1999.0, 1999.2, 1999.4]
Y_MAJOR_TICKS = [-12, -8, -4, 0, 4, 8, 12]
Y_MINOR_TICKS = [-12, -11, -10, -9, -8, -7, -6, -5, -4, -3, -2, -1, 0,
                 1, 2, 3, 4, 5, 6, 7, 8, 9, 10, 11, 12]

TIMES = (T_SEG1 + T_SEG2 + T_SEG3 + T_SEG4 + T_SEG5
         + T_SEG1B + T_SEG2B + T_SEG3B + T_SEG4B + T_SEG5B)
NORTH = (N_SEG1 + N_SEG2 + N_SEG3 + N_SEG4 + N_SEG5
         + N_SEG1B + N_SEG2B + N_SEG3B + N_SEG4B + N_SEG5B)
EAST = (E_SEG1 + E_SEG2 + E_SEG3 + E_SEG4 + E_SEG5
        + E_SEG1B + E_SEG2B + E_SEG3B + E_SEG4B + E_SEG5B)
VERT = (U_SEG1 + U_SEG2 + U_SEG3 + U_SEG4 + U_SEG5
        + U_SEG1B + U_SEG2B + U_SEG3B + U_SEG4B + U_SEG5B)

# ------------------------------------------------------------------ style / layout
BLUE = "#1565b0"
RED = "#e83440"
INK = "#3a3a36"
AXIS_GRAY = "#555555"
FONT = "Liberation Sans"

X_DOMAIN = [1992.695, 1999.559]
Y_DOMAIN = [-12, 12]
PANEL_W = 1867
PANEL_H = 563

# annotation anchors in data units: panel title (centre, baseline), rate text (left, baseline)
TITLE_ANCHORS = [(1995.908, 8.42), (1995.930, 7.69), (1996.088, 7.18)]
RATE_ANCHORS = [(1993.081, 3.44), (1993.114, -5.05), (1993.217, -7.95)]


def frame(ts, vs):
    return pd.DataFrame([{"t": t, "v": v} for t, v in zip(ts, vs)])


def panel(idx, values, fit_t, fit_v, label_lo, label_hi, show_x_labels, top_line):
    xs = alt.Scale(domain=X_DOMAIN, nice=False, zero=False)
    ys = alt.Scale(domain=Y_DOMAIN, nice=False, zero=False)

    y_major = alt.Axis(orient="left", values=Y_MAJOR_TICKS, tickSize=18,
                       labelExpr=f"datum.value >= {label_lo} && datum.value <= {label_hi} ? '' + datum.value : ''",
                       labelFontSize=43, labelPadding=35, labelOffset=-11,
                       title=Y_TITLE, titleFontSize=52, titleFontWeight="normal",
                       titleAngle=270, titleAlign="center", titleBaseline="alphabetic",
                       titleX=-158, titleY=268)
    y_minor = alt.Axis(orient="left", values=Y_MINOR_TICKS, tickSize=9, labels=False, title=None)
    if show_x_labels:
        x_major = alt.Axis(orient="bottom", values=X_MAJOR_TICKS, tickSize=18,
                           labelExpr="format(datum.value, '.1f')", labelFontSize=51,
                           labelPadding=5, labelOffset=-11, title=None)
    else:
        x_major = alt.Axis(orient="bottom", values=X_MAJOR_TICKS, tickSize=18, labels=False, title=None)
    x_minor = alt.Axis(orient="bottom", values=X_MINOR_TICKS, tickSize=9, labels=False, title=None)

    fit = alt.Chart(frame(fit_t, fit_v)).mark_line(
        color=RED, strokeWidth=6, interpolate="monotone", clip=True
    ).encode(
        x=alt.X("t:Q", scale=xs, axis=x_minor),
        y=alt.Y("v:Q", scale=ys, axis=y_minor),
    )
    pts = alt.Chart(frame(TIMES, values)).mark_point(
        shape="triangle-down", filled=True, size=100, color=BLUE, opacity=1, clip=True
    ).encode(
        x=alt.X("t:Q", scale=xs, axis=x_major),
        y=alt.Y("v:Q", scale=ys, axis=y_major),
    )
    one = pd.DataFrame({"k": [0]})
    if top_line:
        top_axis = alt.Axis(orient="top", ticks=False, labels=False, title=None, domain=True)
    else:
        top_axis = None
    tx, ty = TITLE_ANCHORS[idx]
    title = alt.Chart(one).mark_text(
        font=FONT, fontSize=62, fontWeight="bold", color=INK, align="center", baseline="alphabetic"
    ).encode(
        x=alt.XDatum(tx, type="quantitative", scale=xs, axis=top_axis),
        y=alt.YDatum(ty, type="quantitative", scale=ys, axis=None),
        text=alt.value(PANEL_NAMES[idx]),
    )
    rx, ry = RATE_ANCHORS[idx]
    rate = alt.Chart(one).mark_text(
        font=FONT, fontSize=51.5, color=RED, align="left", baseline="alphabetic"
    ).encode(
        x=alt.XDatum(rx, type="quantitative", scale=xs, axis=None),
        y=alt.YDatum(ry, type="quantitative", scale=ys, axis=None),
        text=alt.value(RATE_TEXTS[idx]),
    )
    return alt.layer(fit, pts, title, rate).resolve_axis(
        x="independent", y="independent"
    ).properties(width=PANEL_W, height=PANEL_H)


north = panel(0, NORTH, FIT_N_T, FIT_N, -11, 12, False, True)
east = panel(1, EAST, FIT_E_T, FIT_E, -11, 11, False, False)
vert = panel(2, VERT, FIT_U_T, FIT_U, -12, 11, True, False)

chart = alt.vconcat(north, east, vert, spacing=0, bounds="flush").properties(
    padding={"left": 63, "top": 34, "right": 0, "bottom": 0}
).configure_view(
    strokeWidth=0
).configure_axis(
    grid=False, domainColor=AXIS_GRAY, domainWidth=1.3, tickColor=AXIS_GRAY, tickWidth=1.3,
    labelFont=FONT, labelColor=INK, titleFont=FONT, titleColor=INK,
    labelFlush=False, labelOverlap=False
)

chart.save("out.html", embed_options={"renderer": "svg", "actions": False})
